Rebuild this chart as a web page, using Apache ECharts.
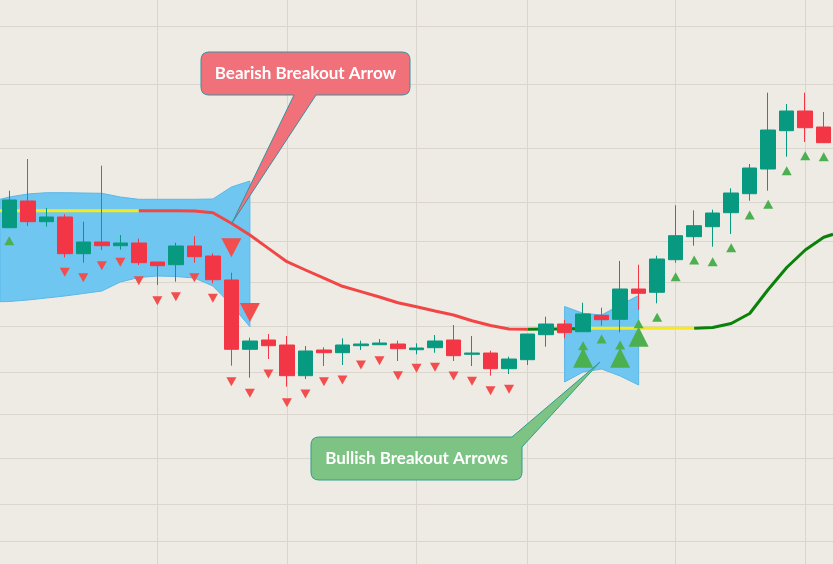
<!DOCTYPE html>
<html><head><meta charset="utf-8">
<script src="https://cdn.jsdelivr.net/npm/echarts@6/dist/echarts.min.js"></script>
<style>html,body{margin:0;padding:0;background:#eeebe4;}#c{width:833px;height:564px;}</style>
</head><body><div id="c"></div>
<script>
// ---- data (price scale in chart units) ----
const candleIndex = [0,1,2,3,4,5,6,7,8,9,10,11,12,13,14,15,16,17,18,19,20,21,22,23,24,25,26,27,28,29,30,31,32,33,34,35,36,37,38,39,40,41,42,43,44];
const opens  = [336.3,363,342.3,347,310.3,322,318.3,321,302,299.3,318,308,284,214.7,224,219,188.3,214,211.3,218.3,219.3,220,214.3,216.3,224,209.7,211,195.3,204.3,229.3,240,232.3,248.7,244.7,275,271.7,304.3,327.3,337.3,351.3,370.3,395,433.3,453,437];
const closes = [364,342.3,347,310.3,322,318.3,321,301.3,298.3,318,307.3,284.3,214.7,223,218.3,188.3,213,211.3,219,220,221,215.3,216,223,208.3,211,195.3,205,230,240,231.3,250,244.3,275,270.7,305,328.3,338.3,351,371,396,434,453,436.3,421.3];
const lows   = [336.3,338,337.3,306.7,301.3,314,314.3,299,279,282.3,301.3,280.7,198.3,186.3,205,177.3,185,198,199,214,219.3,203,209.7,211.3,203,198,188.3,190,199,217.3,225.7,232.3,238.3,231.7,254,260.7,301.3,318.3,317.3,330,363.3,373.3,407.3,422,421.3];
const highs  = [373.3,405,356,349.7,342.3,398.3,329,325.3,302,321.3,327.7,310.7,291.3,226.3,230,228,218,216.7,225.7,223.3,225,223.3,220.7,229,239,228,213.3,207.3,230,247.3,244,261.3,256.3,303,299.3,308.3,358.7,353.7,354.3,375.7,400,471.3,460,471.3,452];

// small bearish arrows (below candles)
const bearArrowIdx = [3,4,5,6,7,8,9,10,11,12,13,14,15,16,17,18,19,20,21,22,23,24,25,26,27];
const bearArrowVal = [291.7,286.3,298.3,301.7,283.3,263.3,267.3,286.3,265.7,182.3,170.7,190,161.3,170,182.3,184,199,203.3,188.3,195.7,196.7,188,182.7,173.3,174.7];
// large bearish breakout arrows
const bearBreakIdx = [12,13];
const bearBreakVal = [316.2,251.5];
// small bullish arrows
const bullArrowIdx = [0,31,32,33,34,35,36,37,38,39,40,41,42,43,44];
const bullArrowVal = [323.3,218.2,225,219,240.3,246.7,287.3,304,302.3,316.3,349,359.7,393.3,408.3,407.3];
// large bullish breakout arrows
const bullBreakIdx = [31,33,34];
const bullBreakVal = [206.2,206.2,227.3];

// channel bands
const band1Idx   = [-0.5,0,1,2,3,4,5,6,7,8,9,10,11,12,13];
const band1Upper = [364.7,367,370,371.3,371.3,371,370.7,367,364.7,364.7,364.7,364.7,365,377,383];
const band1Lower = [262.3,262.5,264,266,268,270.5,273,282,286.5,288,287.5,286,278,259,237.3];
const band2Idx   = [30,31,32,33,34];
const band2Upper = [257.5,250.7,249,259,268.5];
const band2Lower = [182,192,195,188,179];

// trailing line segments
const yellow1Idx = [-0.5,7];
const yellow1Val = [353.3,353.3];
const redIdx = [7,8,9,10,11,12,13,14,15,16,17,18,19,20,21,22,23,24,25,26,27,28];
const redVal = [353.3,353.3,353.3,353,351.3,340.7,329,315.6,302.3,294,285.8,277.7,272.4,267,261.3,257.3,253,249,243.2,238.5,235,234.7];
const green1Idx = [28,29,30,31];
const green1Val = [234.7,235,235,235.5];
const yellow2Idx = [31,37];
const yellow2Val = [235.7,235.7];
const green2Idx = [37,38,39,40,41,42,43,44,44.5];
const green2Val = [235.7,236.5,240.5,250.5,274.5,296.5,314,326.7,329.7];

// grid levels
const gridY = [538,480,416,362,323,282,238,192,150,106,60,23];
const gridX = [8,15,22,28,36,43];

const texts = {bear: 'Bearish Breakout Arrow', bull: 'Bullish Breakout Arrows'};

// ---- build ----
const zip = (a,b) => a.map((v,i)=>[v,b[i]]);
const candleData = candleIndex.map((x,i)=>[x, opens[i], closes[i], lows[i], highs[i]]);

function band(xs, up, lo, z){
  const data = xs.map((x,i)=>[x, up[i], lo[i]]);
  return {
    type:'custom', z, silent:true, data, encode:{x:0, y:[1,2]},
    renderItem(params, api){
      if (params.dataIndex !== 0) return null;
      const top = data.map(d=>api.coord([d[0], d[1]]));
      const bot = data.map(d=>api.coord([d[0], d[2]])).reverse();
      return {type:'polygon', shape:{points: top.concat(bot)},
        style:{fill:'#6ec6f1', stroke:'#5ab8ea', lineWidth:1}};
    }
  };
}
function seg(xs, vs, color, z){
  return {type:'line', data: zip(xs, vs), z, symbol:'none', silent:true,
    lineStyle:{color, width:3}, smooth:false};
}
function tri(xs, vs, color, size, down, z){
  return {type:'scatter', data: zip(xs, vs), z, silent:true, symbol:'triangle',
    symbolSize:size, symbolRotate: down ? 180 : 0, itemStyle:{color, opacity:1}};
}
// callout boxes (annotation shapes, pixel paths)
const callouts = [
  {path:'M209 52 L402 52 Q410 52 410 60 L410 87 Q410 95 402 95 L316 95 L232 223 L294 95 L209 95 Q201 95 201 87 L201 60 Q201 52 209 52 Z',
   fill:'#f0717a', stroke:'#3a8f9c', tx:305.5, ty:73.5, text:texts.bear},
  {path:'M319 437 L512 437 L600 362 L522 447 L522 472 Q522 480 514 480 L319 480 Q311 480 311 472 L311 445 Q311 437 319 437 Z',
   fill:'#7dc383', stroke:'#2e9e8c', tx:416.5, ty:458.5, text:texts.bull}
];
const calloutSeries = {
  type:'custom', z:20, silent:true, data:[[0,0]], encode:{x:0,y:1}, clip:false,
  renderItem(){
    return {type:'group', children: callouts.flatMap(c=>[
      {type:'path', shape:{pathData:c.path}, style:{fill:c.fill, stroke:c.stroke, lineWidth:1}},
      {type:'text', x:c.tx, y:c.ty, style:{text:c.text, fill:'#ffffff', font:'bold 17px Lato', align:'center', verticalAlign:'middle'}}
    ])};
  }
};

const chart = echarts.init(document.getElementById('c'), null, {renderer:'canvas'});
chart.setOption({
  backgroundColor:'#eeebe4',
  animation:false,
  grid:{left:0, right:0, top:0, bottom:0},
  xAxis:{type:'value', min:-0.5, max:44.5, show:false, splitLine:{show:false}},
  yAxis:{type:'value', min:0, max:564, show:false, splitLine:{show:false}},
  series:[
    {type:'line', data:[[-0.5,0]], z:1, symbol:'none', silent:true, lineStyle:{opacity:0},
      markLine:{z:1, silent:true, symbol:'none', label:{show:false}, animation:false,
        lineStyle:{color:'#dad6ce', width:1, type:'solid'},
        data: gridY.map(v=>({yAxis:v})).concat(gridX.map(v=>({xAxis:v})))}},
    band(band1Idx, band1Upper, band1Lower, 2),
    band(band2Idx, band2Upper, band2Lower, 2),
    seg(yellow1Idx, yellow1Val, '#f7ea1c', 3),
    seg(redIdx, redVal, '#f24646', 3),
    seg(green1Idx, green1Val, '#0a820a', 3),
    seg(yellow2Idx, yellow2Val, '#f7ea1c', 3),
    seg(green2Idx, green2Val, '#0a820a', 3),
    {type:'candlestick', data:candleData, z:4, silent:true, barWidth:15,
      itemStyle:{color:'#089981', color0:'#f23645', borderColor:'#089981', borderColor0:'#f23645', borderWidth:1}},
    tri(bearArrowIdx, bearArrowVal, '#f34e4e', [10,9], true, 5),
    tri(bearBreakIdx, bearBreakVal, '#f34e4e', [20,19], true, 5),
    tri(bullArrowIdx, bullArrowVal, '#4caf50', [10,9], false, 5),
    tri(bullBreakIdx, bullBreakVal, '#4caf50', [20,20], false, 5),
    calloutSeries
  ]
});
</script></body></html>
